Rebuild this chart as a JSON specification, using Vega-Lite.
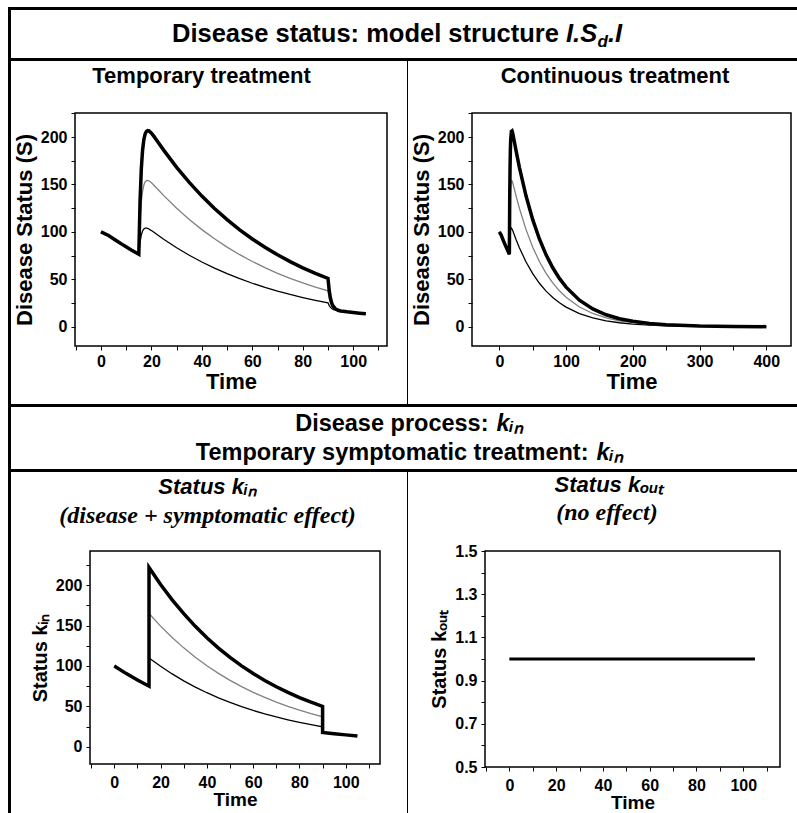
{
  "$schema": "https://vega.github.io/schema/vega-lite/v6.json",
  "background": "white",
  "padding": {"left": 8, "top": 7, "right": 0, "bottom": 0},
  "config": {
    "view": {"stroke": null},
    "font": "Liberation Sans",
    "text": {"font": "Liberation Sans", "fontWeight": "bold", "color": "black"},
    "axis": {
      "domain": false, "grid": false, "ticks": true,
      "tickColor": "black", "tickSize": 4, "tickWidth": 1,
      "labelFont": "Liberation Sans", "labelFontSize": 16, "labelFontWeight": "bold", "labelColor": "black",
      "labelPadding": 3, "labelFlush": false, "labelOverlap": false,
      "titleFont": "Liberation Sans", "titleFontSize": 22, "titleFontWeight": "bold", "titleColor": "black"
    },
    "axisY": {"labelPadding": 4, "titlePadding": 4},
    "axisX": {"titlePadding": 2}
  },
  "datasets": {
    "temporary": [
      {"t": 0, "thin": 100, "gray": 100, "thick": 100},
      {"t": 3, "thin": 96.16, "gray": 96.16, "thick": 96.16},
      {"t": 6, "thin": 90.86, "gray": 90.86, "thick": 90.86},
      {"t": 9, "thin": 85.78, "gray": 85.78, "thick": 85.78},
      {"t": 12, "thin": 80.98, "gray": 80.98, "thick": 80.98},
      {"t": 15, "thin": 76.45, "gray": 76.45, "thick": 76.45},
      {"t": 15.5, "thin": 89.42, "gray": 110.94, "thick": 133.25},
      {"t": 16, "thin": 96.86, "gray": 131.22, "thick": 166.84},
      {"t": 16.5, "thin": 100.95, "gray": 142.89, "thick": 186.36},
      {"t": 17, "thin": 103.02, "gray": 149.34, "thick": 197.35},
      {"t": 17.5, "thin": 103.85, "gray": 152.64, "thick": 203.19},
      {"t": 18, "thin": 103.96, "gray": 154.01, "thick": 205.9},
      {"t": 18.5, "thin": 103.61, "gray": 154.25, "thick": 206.73},
      {"t": 19, "thin": 102.99, "gray": 153.79, "thick": 206.42},
      {"t": 20, "thin": 101.37, "gray": 151.79, "thick": 204.04},
      {"t": 21, "thin": 99.52, "gray": 149.17, "thick": 200.64},
      {"t": 22.5, "thin": 96.67, "gray": 144.97, "thick": 195.03},
      {"t": 25, "thin": 91.99, "gray": 137.97, "thick": 185.63},
      {"t": 30, "thin": 83.28, "gray": 124.91, "thick": 168.05},
      {"t": 35, "thin": 75.39, "gray": 113.08, "thick": 152.14},
      {"t": 40, "thin": 68.25, "gray": 102.37, "thick": 137.72},
      {"t": 45, "thin": 61.79, "gray": 92.67, "thick": 124.68},
      {"t": 50, "thin": 55.93, "gray": 83.89, "thick": 112.87},
      {"t": 55, "thin": 50.63, "gray": 75.95, "thick": 102.18},
      {"t": 60, "thin": 45.84, "gray": 68.75, "thick": 92.5},
      {"t": 65, "thin": 41.5, "gray": 62.24, "thick": 83.74},
      {"t": 70, "thin": 37.57, "gray": 56.35, "thick": 75.81},
      {"t": 75, "thin": 34.01, "gray": 51.01, "thick": 68.63},
      {"t": 80, "thin": 30.79, "gray": 46.18, "thick": 62.13},
      {"t": 85, "thin": 27.87, "gray": 41.8, "thick": 56.24},
      {"t": 90, "thin": 25.23, "gray": 37.85, "thick": 50.92},
      {"t": 90.5, "thin": 22.26, "gray": 29.91, "thick": 37.84},
      {"t": 91, "thin": 20.39, "gray": 25.03, "thick": 29.84},
      {"t": 91.5, "thin": 19.19, "gray": 22.0, "thick": 24.92},
      {"t": 92, "thin": 18.39, "gray": 20.1, "thick": 21.87},
      {"t": 93, "thin": 17.45, "gray": 18.08, "thick": 18.73},
      {"t": 94, "thin": 16.9, "gray": 17.13, "thick": 17.37},
      {"t": 95, "thin": 16.5, "gray": 16.58, "thick": 16.67},
      {"t": 97.5, "thin": 15.68, "gray": 15.69, "thick": 15.7},
      {"t": 100, "thin": 14.95, "gray": 14.95, "thick": 14.95},
      {"t": 102.5, "thin": 14.25, "gray": 14.25, "thick": 14.25},
      {"t": 105, "thin": 13.58, "gray": 13.58, "thick": 13.58}
    ],
    "continuous": [
      {"t": 0, "thin": 100, "gray": 100, "thick": 100},
      {"t": 3, "thin": 96.16, "gray": 96.16, "thick": 96.16},
      {"t": 6, "thin": 90.86, "gray": 90.86, "thick": 90.86},
      {"t": 9, "thin": 85.78, "gray": 85.78, "thick": 85.78},
      {"t": 12, "thin": 80.98, "gray": 80.98, "thick": 80.98},
      {"t": 15, "thin": 76.45, "gray": 76.45, "thick": 76.45},
      {"t": 15.5, "thin": 89.42, "gray": 110.94, "thick": 133.25},
      {"t": 16, "thin": 96.86, "gray": 131.22, "thick": 166.84},
      {"t": 16.5, "thin": 100.95, "gray": 142.89, "thick": 186.36},
      {"t": 17, "thin": 103.02, "gray": 149.34, "thick": 197.35},
      {"t": 18, "thin": 103.96, "gray": 154.01, "thick": 205.9},
      {"t": 19, "thin": 102.99, "gray": 153.79, "thick": 206.42},
      {"t": 20, "thin": 101.37, "gray": 151.79, "thick": 204.04},
      {"t": 22.5, "thin": 96.67, "gray": 144.97, "thick": 195.03},
      {"t": 25, "thin": 91.99, "gray": 137.97, "thick": 185.63},
      {"t": 30, "thin": 83.28, "gray": 124.91, "thick": 168.05},
      {"t": 40, "thin": 68.25, "gray": 102.37, "thick": 137.72},
      {"t": 50, "thin": 55.93, "gray": 83.89, "thick": 112.87},
      {"t": 60, "thin": 45.84, "gray": 68.75, "thick": 92.5},
      {"t": 70, "thin": 37.57, "gray": 56.35, "thick": 75.81},
      {"t": 80, "thin": 30.79, "gray": 46.18, "thick": 62.13},
      {"t": 90, "thin": 25.23, "gray": 37.85, "thick": 50.92},
      {"t": 100, "thin": 20.68, "gray": 31.02, "thick": 41.73},
      {"t": 120, "thin": 13.89, "gray": 20.83, "thick": 28.03},
      {"t": 140, "thin": 9.33, "gray": 13.99, "thick": 18.83},
      {"t": 160, "thin": 6.27, "gray": 9.4, "thick": 12.65},
      {"t": 180, "thin": 4.21, "gray": 6.31, "thick": 8.49},
      {"t": 200, "thin": 2.83, "gray": 4.24, "thick": 5.71},
      {"t": 225, "thin": 1.72, "gray": 2.58, "thick": 3.47},
      {"t": 250, "thin": 1.04, "gray": 1.57, "thick": 2.11},
      {"t": 300, "thin": 0.39, "gray": 0.58, "thick": 0.78},
      {"t": 350, "thin": 0.14, "gray": 0.21, "thick": 0.29},
      {"t": 400, "thin": 0.05, "gray": 0.08, "thick": 0.11}
    ],
    "kin": [
      {"seq": 1, "t": 0, "thin": 100, "gray": 100, "thick": 100},
      {"seq": 2, "t": 5, "thin": 90.85, "gray": 90.85, "thick": 90.85},
      {"seq": 3, "t": 10, "thin": 82.53, "gray": 82.53, "thick": 82.53},
      {"seq": 4, "t": 15, "thin": 74.98, "gray": 74.98, "thick": 74.98},
      {"seq": 5, "t": 15, "thin": 110, "gray": 165, "thick": 222},
      {"seq": 6, "t": 20, "thin": 99.58, "gray": 149.37, "thick": 200.97},
      {"seq": 7, "t": 25, "thin": 90.15, "gray": 135.23, "thick": 181.94},
      {"seq": 8, "t": 30, "thin": 81.62, "gray": 122.42, "thick": 164.72},
      {"seq": 9, "t": 35, "thin": 73.89, "gray": 110.83, "thick": 149.12},
      {"seq": 10, "t": 40, "thin": 66.89, "gray": 100.33, "thick": 134.99},
      {"seq": 11, "t": 45, "thin": 60.55, "gray": 90.83, "thick": 122.2},
      {"seq": 12, "t": 50, "thin": 54.82, "gray": 82.22, "thick": 110.63},
      {"seq": 13, "t": 55, "thin": 49.62, "gray": 74.44, "thick": 100.15},
      {"seq": 14, "t": 60, "thin": 44.92, "gray": 67.39, "thick": 90.66},
      {"seq": 15, "t": 65, "thin": 40.67, "gray": 61.0, "thick": 82.08},
      {"seq": 16, "t": 70, "thin": 36.82, "gray": 55.23, "thick": 74.3},
      {"seq": 17, "t": 75, "thin": 33.33, "gray": 49.99, "thick": 67.27},
      {"seq": 18, "t": 80, "thin": 30.17, "gray": 45.26, "thick": 60.89},
      {"seq": 19, "t": 85, "thin": 27.32, "gray": 40.97, "thick": 55.13},
      {"seq": 20, "t": 90, "thin": 24.73, "gray": 37.09, "thick": 49.91},
      {"seq": 21, "t": 90, "thin": 17.76, "gray": 17.76, "thick": 17.76},
      {"seq": 22, "t": 95, "thin": 16.14, "gray": 16.14, "thick": 16.14},
      {"seq": 23, "t": 100, "thin": 14.66, "gray": 14.66, "thick": 14.66},
      {"seq": 24, "t": 105, "thin": 13.32, "gray": 13.32, "thick": 13.32}
    ],
    "kout": [
      {"t": 0, "k": 1},
      {"t": 105, "k": 1}
    ]
  },
  "spacing": 0,
  "vconcat": [
    {
      "columns": 2, "align": "each", "bounds": "flush", "spacing": 0,
      "concat": [
        {"width": 3, "height": 3, "data": {"values": [{}]}, "mark": {"type": "text", "text": "", "fontSize": 0}, "view": {"fill": "black", "stroke": null}},
        {"width": 786, "height": 3, "data": {"values": [{}]}, "mark": {"type": "text", "text": "", "fontSize": 0}, "view": {"fill": "black", "stroke": null}},
        {"width": 3, "height": 48, "data": {"values": [{}]}, "mark": {"type": "text", "text": "", "fontSize": 0}, "view": {"fill": "black", "stroke": null}},
        {
          "width": 786, "height": 48,
          "data": {"values": [{}]},
          "layer": [
            {"mark": {"type": "text", "text": "Disease status: model structure", "align": "right", "baseline": "alphabetic", "fontSize": 25.5, "dx": 154.9, "dy": 8.3}},
            {"mark": {"type": "text", "text": "I.S", "align": "left", "baseline": "alphabetic", "fontSize": 25.5, "fontStyle": "italic", "dx": 162, "dy": 8.3}},
            {"mark": {"type": "text", "text": "d", "align": "left", "baseline": "alphabetic", "fontSize": 17, "fontStyle": "italic", "dx": 193.5, "dy": 13}},
            {"mark": {"type": "text", "text": ".I", "align": "left", "baseline": "alphabetic", "fontSize": 25.5, "fontStyle": "italic", "dx": 204, "dy": 8.3}}
          ]
        },
        {"width": 3, "height": 3, "data": {"values": [{}]}, "mark": {"type": "text", "text": "", "fontSize": 0}, "view": {"fill": "black", "stroke": null}},
        {"width": 786, "height": 3, "data": {"values": [{}]}, "mark": {"type": "text", "text": "", "fontSize": 0}, "view": {"fill": "black", "stroke": null}}
      ]
    },
    {
      "columns": 7, "align": "each", "bounds": "flush", "spacing": 0,
      "concat": [
        {"width": 3, "height": 52, "data": {"values": [{}]}, "mark": {"type": "text", "text": "", "fontSize": 0}, "view": {"fill": "black", "stroke": null}},
        {"width": 64, "height": 52, "data": {"values": [{}]}, "mark": {"type": "text", "text": "", "fontSize": 0}},
        {"width": 312, "height": 52, "data": {"values": [{}]}, "mark": {"type": "text", "text": "Temporary treatment", "fontSize": 22, "baseline": "alphabetic", "dx": -29.5, "dy": -4.2}},
        {"width": 20, "height": 52, "data": {"values": [{}]}, "mark": {"type": "text", "text": "", "fontSize": 0}},
        {"width": 1, "height": 52, "data": {"values": [{}]}, "mark": {"type": "text", "text": "", "fontSize": 0}, "view": {"fill": "black", "stroke": null}},
        {"width": 64, "height": 52, "data": {"values": [{}]}, "mark": {"type": "text", "text": "", "fontSize": 0}},
        {"width": 319, "height": 52, "data": {"values": [{}]}, "mark": {"type": "text", "text": "Continuous treatment", "fontSize": 22, "baseline": "alphabetic", "dx": -16.5, "dy": -4.2}},

        {"width": 3, "height": 233, "data": {"values": [{}]}, "mark": {"type": "text", "text": "", "fontSize": 0}, "view": {"fill": "black", "stroke": null}},
        {"width": 64, "height": 233, "data": {"values": [{}]}, "mark": {"type": "text", "text": "", "fontSize": 0}},
        {
          "width": 312, "height": 233,
          "view": {"stroke": "black", "strokeWidth": 1.5},
          "data": {"name": "temporary"},
          "encoding": {
            "x": {"field": "t", "type": "quantitative", "scale": {"domain": [-10.3, 113.4], "nice": false, "zero": false},
                  "axis": {"title": "Time", "values": [-10, 0, 10, 20, 30, 40, 50, 60, 70, 80, 90, 100, 110], "labelExpr": "datum.value % 20 === 0 ? datum.label : ''"}}
          },
          "layer": [
            {"mark": {"type": "line", "color": "black", "strokeWidth": 1.3},
             "encoding": {"y": {"field": "thin", "type": "quantitative", "scale": {"domain": [-20.3, 225.3], "nice": false, "zero": false},
               "axis": {"title": "Disease Status (S)", "values": [0, 25, 50, 75, 100, 125, 150, 175, 200, 225], "labelExpr": "datum.value % 50 === 0 ? datum.label : ''"}}}},
            {"mark": {"type": "line", "color": "#808080", "strokeWidth": 1.3},
             "encoding": {"y": {"field": "gray", "type": "quantitative", "scale": {"domain": [-20.3, 225.3], "nice": false, "zero": false},
               "axis": {"title": "Disease Status (S)", "values": [0, 25, 50, 75, 100, 125, 150, 175, 200, 225], "labelExpr": "datum.value % 50 === 0 ? datum.label : ''"}}}},
            {"mark": {"type": "line", "color": "black", "strokeWidth": 3.5},
             "encoding": {"y": {"field": "thick", "type": "quantitative", "scale": {"domain": [-20.3, 225.3], "nice": false, "zero": false},
               "axis": {"title": "Disease Status (S)", "values": [0, 25, 50, 75, 100, 125, 150, 175, 200, 225], "labelExpr": "datum.value % 50 === 0 ? datum.label : ''"}}}}
          ]
        },
        {"width": 20, "height": 233, "data": {"values": [{}]}, "mark": {"type": "text", "text": "", "fontSize": 0}},
        {"width": 1, "height": 233, "data": {"values": [{}]}, "mark": {"type": "text", "text": "", "fontSize": 0}, "view": {"fill": "black", "stroke": null}},
        {"width": 64, "height": 233, "data": {"values": [{}]}, "mark": {"type": "text", "text": "", "fontSize": 0}},
        {
          "width": 319, "height": 233,
          "view": {"stroke": "black", "strokeWidth": 1.5},
          "data": {"name": "continuous"},
          "encoding": {
            "x": {"field": "t", "type": "quantitative", "scale": {"domain": [-41, 437], "nice": false, "zero": false},
                  "axis": {"title": "Time", "values": [0, 50, 100, 150, 200, 250, 300, 350, 400], "labelExpr": "datum.value % 100 === 0 ? datum.label : ''"}}
          },
          "layer": [
            {"mark": {"type": "line", "color": "black", "strokeWidth": 1.3},
             "encoding": {"y": {"field": "thin", "type": "quantitative", "scale": {"domain": [-20.3, 225.3], "nice": false, "zero": false},
               "axis": {"title": "Disease Status (S)", "values": [0, 25, 50, 75, 100, 125, 150, 175, 200, 225], "labelExpr": "datum.value % 50 === 0 ? datum.label : ''"}}}},
            {"mark": {"type": "line", "color": "#808080", "strokeWidth": 1.3},
             "encoding": {"y": {"field": "gray", "type": "quantitative", "scale": {"domain": [-20.3, 225.3], "nice": false, "zero": false},
               "axis": {"title": "Disease Status (S)", "values": [0, 25, 50, 75, 100, 125, 150, 175, 200, 225], "labelExpr": "datum.value % 50 === 0 ? datum.label : ''"}}}},
            {"mark": {"type": "line", "color": "black", "strokeWidth": 3.5},
             "encoding": {"y": {"field": "thick", "type": "quantitative", "scale": {"domain": [-20.3, 225.3], "nice": false, "zero": false},
               "axis": {"title": "Disease Status (S)", "values": [0, 25, 50, 75, 100, 125, 150, 175, 200, 225], "labelExpr": "datum.value % 50 === 0 ? datum.label : ''"}}}}
          ]
        },

        {"width": 3, "height": 58, "data": {"values": [{}]}, "mark": {"type": "text", "text": "", "fontSize": 0}, "view": {"fill": "black", "stroke": null}},
        {"width": 64, "height": 58, "data": {"values": [{}]}, "mark": {"type": "text", "text": "", "fontSize": 0}},
        {"width": 312, "height": 58, "data": {"values": [{}]}, "mark": {"type": "text", "text": "", "fontSize": 0}},
        {"width": 20, "height": 58, "data": {"values": [{}]}, "mark": {"type": "text", "text": "", "fontSize": 0}},
        {"width": 1, "height": 58, "data": {"values": [{}]}, "mark": {"type": "text", "text": "", "fontSize": 0}, "view": {"fill": "black", "stroke": null}},
        {"width": 64, "height": 58, "data": {"values": [{}]}, "mark": {"type": "text", "text": "", "fontSize": 0}},
        {"width": 319, "height": 58, "data": {"values": [{}]}, "mark": {"type": "text", "text": "", "fontSize": 0}}
      ]
    },
    {
      "columns": 2, "align": "each", "bounds": "flush", "spacing": 0,
      "concat": [
        {"width": 3, "height": 3, "data": {"values": [{}]}, "mark": {"type": "text", "text": "", "fontSize": 0}, "view": {"fill": "black", "stroke": null}},
        {"width": 786, "height": 3, "data": {"values": [{}]}, "mark": {"type": "text", "text": "", "fontSize": 0}, "view": {"fill": "black", "stroke": null}},
        {"width": 3, "height": 62, "data": {"values": [{}]}, "mark": {"type": "text", "text": "", "fontSize": 0}, "view": {"fill": "black", "stroke": null}},
        {
          "width": 786, "height": 62,
          "data": {"values": [{}]},
          "layer": [
            {"mark": {"type": "text", "text": "Disease process:", "align": "right", "baseline": "alphabetic", "fontSize": 23.5, "dx": 84.5, "dy": -7}},
            {"mark": {"type": "text", "text": "kᵢₙ", "align": "left", "baseline": "alphabetic", "fontSize": 23.5, "fontStyle": "italic", "dx": 92.5, "dy": -7}},
            {"mark": {"type": "text", "text": "Temporary symptomatic treatment:", "align": "right", "baseline": "alphabetic", "fontSize": 23.5, "dx": 184.5, "dy": 21.5}},
            {"mark": {"type": "text", "text": "kᵢₙ", "align": "left", "baseline": "alphabetic", "fontSize": 23.5, "fontStyle": "italic", "dx": 192.5, "dy": 21.5}}
          ]
        },
        {"width": 3, "height": 3, "data": {"values": [{}]}, "mark": {"type": "text", "text": "", "fontSize": 0}, "view": {"fill": "black", "stroke": null}},
        {"width": 786, "height": 3, "data": {"values": [{}]}, "mark": {"type": "text", "text": "", "fontSize": 0}, "view": {"fill": "black", "stroke": null}}
      ]
    },
    {
      "columns": 7, "align": "each", "bounds": "flush", "spacing": 0,
      "concat": [
        {"width": 3, "height": 79, "data": {"values": [{}]}, "mark": {"type": "text", "text": "", "fontSize": 0}, "view": {"fill": "black", "stroke": null}},
        {"width": 79, "height": 79, "data": {"values": [{}]}, "mark": {"type": "text", "text": "", "fontSize": 0}},
        {
          "width": 290, "height": 79,
          "data": {"values": [{}]},
          "layer": [
            {"mark": {"type": "text", "text": "Status kᵢₙ", "fontSize": 22, "fontStyle": "italic", "baseline": "alphabetic", "dx": -27.5, "dy": -17.5}},
            {"mark": {"type": "text", "text": "(disease + symptomatic effect)", "font": "Liberation Serif", "fontSize": 24, "fontStyle": "italic", "baseline": "alphabetic", "dx": -27.5, "dy": 11.5}}
          ]
        },
        {"width": 27, "height": 79, "data": {"values": [{}]}, "mark": {"type": "text", "text": "", "fontSize": 0}},
        {"width": 1, "height": 79, "data": {"values": [{}]}, "mark": {"type": "text", "text": "", "fontSize": 0}, "view": {"fill": "black", "stroke": null}},
        {"width": 77, "height": 79, "data": {"values": [{}]}, "mark": {"type": "text", "text": "", "fontSize": 0}},
        {
          "width": 295, "height": 79,
          "data": {"values": [{}]},
          "layer": [
            {"mark": {"type": "text", "text": "Status kₒᵤₜ", "fontSize": 22, "fontStyle": "italic", "baseline": "alphabetic", "dx": -23.5, "dy": -19.5}},
            {"mark": {"type": "text", "text": "(no effect)", "font": "Liberation Serif", "fontSize": 24, "fontStyle": "italic", "baseline": "alphabetic", "dx": -25.5, "dy": 8.5}}
          ]
        },

        {"width": 3, "height": 262, "data": {"values": [{}]}, "mark": {"type": "text", "text": "", "fontSize": 0}, "view": {"fill": "black", "stroke": null}},
        {"width": 79, "height": 262, "data": {"values": [{}]}, "mark": {"type": "text", "text": "", "fontSize": 0}},
        {
          "width": 290, "height": 213,
          "view": {"stroke": "black", "strokeWidth": 1.5},
          "data": {"name": "kin"},
          "encoding": {
            "x": {"field": "t", "type": "quantitative", "scale": {"domain": [-10.5, 114.8], "nice": false, "zero": false},
                  "axis": {"title": "Time", "titleFontSize": 19, "titlePadding": 0, "labelPadding": 6, "values": [-10, 0, 10, 20, 30, 40, 50, 60, 70, 80, 90, 100, 110], "labelExpr": "datum.value % 20 === 0 ? datum.label : ''"}},
            "order": {"field": "seq", "type": "quantitative"}
          },
          "layer": [
            {"mark": {"type": "line", "color": "black", "strokeWidth": 1.3},
             "encoding": {"y": {"field": "thin", "type": "quantitative", "scale": {"domain": [-21.4, 242.4], "nice": false, "zero": false},
               "axis": {"title": "Status kᵢₙ", "titleFontSize": 20, "titlePadding": 5, "values": [0, 25, 50, 75, 100, 125, 150, 175, 200, 225], "labelExpr": "datum.value % 50 === 0 ? datum.label : ''"}}}},
            {"mark": {"type": "line", "color": "#808080", "strokeWidth": 1.3},
             "encoding": {"y": {"field": "gray", "type": "quantitative", "scale": {"domain": [-21.4, 242.4], "nice": false, "zero": false},
               "axis": {"title": "Status kᵢₙ", "titleFontSize": 20, "titlePadding": 5, "values": [0, 25, 50, 75, 100, 125, 150, 175, 200, 225], "labelExpr": "datum.value % 50 === 0 ? datum.label : ''"}}}},
            {"mark": {"type": "line", "color": "black", "strokeWidth": 3.5},
             "encoding": {"y": {"field": "thick", "type": "quantitative", "scale": {"domain": [-21.4, 242.4], "nice": false, "zero": false},
               "axis": {"title": "Status kᵢₙ", "titleFontSize": 20, "titlePadding": 5, "values": [0, 25, 50, 75, 100, 125, 150, 175, 200, 225], "labelExpr": "datum.value % 50 === 0 ? datum.label : ''"}}}}
          ]
        },
        {"width": 27, "height": 262, "data": {"values": [{}]}, "mark": {"type": "text", "text": "", "fontSize": 0}},
        {"width": 1, "height": 262, "data": {"values": [{}]}, "mark": {"type": "text", "text": "", "fontSize": 0}, "view": {"fill": "black", "stroke": null}},
        {"width": 77, "height": 262, "data": {"values": [{}]}, "mark": {"type": "text", "text": "", "fontSize": 0}},
        {
          "width": 295, "height": 216,
          "view": {"stroke": "black", "strokeWidth": 1.5},
          "data": {"name": "kout"},
          "mark": {"type": "line", "color": "black", "strokeWidth": 3},
          "encoding": {
            "x": {"field": "t", "type": "quantitative", "scale": {"domain": [-10.4, 115.7], "nice": false, "zero": false},
                  "axis": {"title": "Time", "titleFontSize": 19, "titlePadding": 0, "labelPadding": 6, "values": [-10, 0, 10, 20, 30, 40, 50, 60, 70, 80, 90, 100, 110], "labelExpr": "datum.value % 20 === 0 ? datum.label : ''"}},
            "y": {"field": "k", "type": "quantitative", "scale": {"domain": [0.5, 1.5], "nice": false, "zero": false},
                  "axis": {"title": "Status kₒᵤₜ", "titleFontSize": 20, "titlePadding": 5, "format": ".1f", "values": [0.5, 0.6, 0.7, 0.8, 0.9, 1, 1.1, 1.2, 1.3, 1.4, 1.5], "labelExpr": "round(datum.value * 10) % 2 === 1 ? datum.label : ''"}}
          }
        }
      ]
    }
  ]
}
